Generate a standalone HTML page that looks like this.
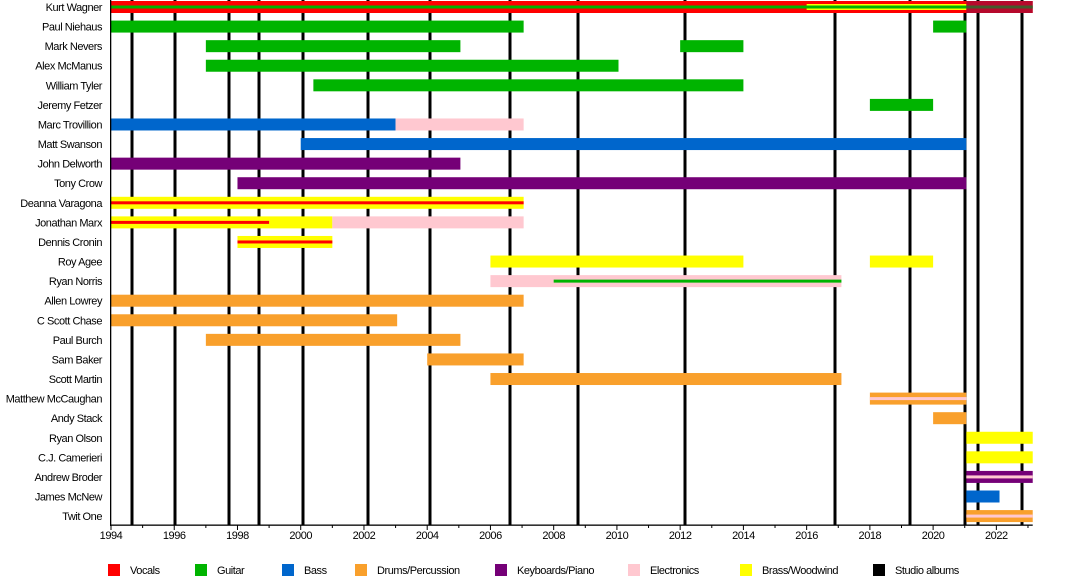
<!DOCTYPE html>
<html><head><meta charset="utf-8"><style>
html,body{margin:0;padding:0;background:#fff;width:1080px;height:580px;overflow:hidden}
svg text{font-family:"Liberation Sans",sans-serif;font-size:11px;fill:#000}
svg text.n{letter-spacing:-0.45px}
</style></head><body>
<svg id="s" width="1080" height="580" xmlns="http://www.w3.org/2000/svg"></svg>
<script>
const s=document.getElementById('s');let h='';
const X=y=>111+(y-1994)*31.62;
const C={r:'#ff0000',g:'#00b400',b:'#0066cc',o:'#f9a02c',p:'#750077',e:'#ffc8d0',y:'#ffff00'};
const names=["Kurt Wagner","Paul Niehaus","Mark Nevers","Alex McManus","William Tyler","Jeremy Fetzer","Marc Trovillion","Matt Swanson","John Delworth","Tony Crow","Deanna Varagona","Jonathan Marx","Dennis Cronin","Roy Agee","Ryan Norris","Allen Lowrey","C Scott Chase","Paul Burch","Sam Baker","Scott Martin","Matthew McCaughan","Andy Stack","Ryan Olson","C.J. Camerieri","Andrew Broder","James McNew","Twit One"];
const cy=i=>7+19.58*i;
[132,175,229,259,303,368,430,510,578,685,835,910,965,978,1022].forEach(x=>h+=`<rect x="${x-1.5}" y="0" width="3" height="525" fill="#000"/>`);
const bars=[[0,1994,2023.15,'r'],[1,1994,2007.05,'g'],[1,2020,2021.05,'g'],[2,1997,2005.05,'g'],[2,2012,2014,'g'],[3,1997,2010.05,'g'],[4,2000.4,2014,'g'],[5,2018,2020,'g'],
[6,1994,2003,'b'],[6,2003,2007.05,'e'],[7,2000,2021.05,'b'],[8,1994,2005.05,'p'],[9,1998,2021.05,'p'],[10,1994,2007.05,'y'],[11,1994,2001,'y'],[11,2001,2007.05,'e'],[12,1998,2001,'y'],[13,2006,2014,'y'],[13,2018,2020,'y'],[14,2006,2017.1,'e'],
[15,1994,2007.05,'o'],[16,1994,2003.05,'o'],[17,1997,2005.05,'o'],[18,2004,2007.05,'o'],[19,2006,2017.1,'o'],[20,2018,2021.05,'o'],[21,2020,2021.05,'o'],[22,2021.05,2023.15,'y'],[23,2021.05,2023.15,'y'],[24,2021.05,2023.15,'p'],[25,2021.05,2022.1,'b'],[26,2021.05,2023.15,'o']];
bars.forEach(([r,a,b,c])=>h+=`<rect x="${X(a)}" y="${cy(r)-6}" width="${X(b)-X(a)}" height="12" fill="${C[c]}"/>`);
const st=[[0,2016,2021.05,'y',6],[0,1994,2023.15,'g',3],[0,2021.05,2023.15,'#7a1050',0],[10,1994,2007.05,'r',3],[11,1994,1999,'r',3],[12,1998,2001,'r',3],[14,2008,2017.1,'g',3],[20,2018,2021.05,'e',3],[24,2021.05,2023.15,'e',3],[26,2021.05,2023.15,'e',3]];
st.forEach(([r,a,b,c,w])=>{if(w==0){h+=`<rect x="${X(a)}" y="${cy(r)-6}" width="${X(b)-X(a)}" height="12" fill="${c}" opacity="0.55"/>`;}else h+=`<rect x="${X(a)}" y="${cy(r)-w/2}" width="${X(b)-X(a)}" height="${w}" fill="${C[c]}"/>`});
names.forEach((n,i)=>h+=`<text class="n" x="102" y="${cy(i)+4}" text-anchor="end">${n}</text>`);
h+=`<rect x="110" y="0" width="1.3" height="526" fill="#000"/><rect x="110" y="524.5" width="${X(2023.15)-110}" height="1.3" fill="#000"/>`;
for(let y=1994;y<=2023;y++){h+=`<rect x="${X(y)-0.5}" y="525" width="1" height="${y%2?3:5}" fill="#000"/>`;if(y%2==0)h+=`<text class="n" x="${X(y)}" y="539" text-anchor="middle">${y}</text>`;}
const L=[[108,'#ff0000','Vocals'],[195,'#00b400','Guitar'],[282,'#0066cc','Bass'],[355,'#f9a02c','Drums/Percussion'],[495,'#750077','Keyboards/Piano'],[628,'#ffc8d0','Electronics'],[740,'#ffff00','Brass/Woodwind'],[873,'#000','Studio albums']];
L.forEach(([x,c,t])=>h+=`<rect x="${x}" y="564" width="12" height="12" fill="${c}"/><text class="n" x="${x+22}" y="574">${t}</text>`);
s.innerHTML=h;
</script>
</body></html>
